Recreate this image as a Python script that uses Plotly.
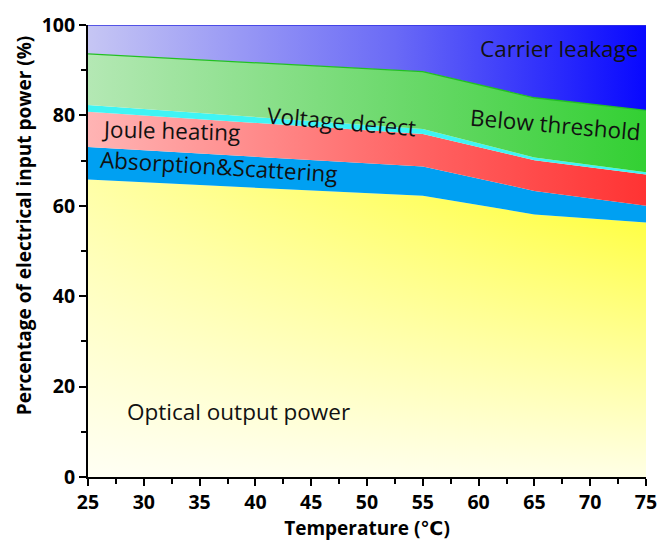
import numpy as np
import plotly.graph_objects as go

# Temperature points (°C)
temperature = [25, 55, 65, 75]

# Share of electrical input power (%) for each loss channel
optical_output = [65.8, 62.2, 58.1, 56.3]
absorption_scattering = [7.2, 6.5, 5.2, 3.7]
joule_heating = [7.8, 7.2, 6.8, 6.9]
voltage_defect = [1.5, 1.1, 0.6, 0.5]
below_threshold = [11.3, 12.7, 13.2, 13.7]
carrier_leakage = [6.4, 10.3, 16.1, 18.9]

x_ticks = [25, 30, 35, 40, 45, 50, 55, 60, 65, 70, 75]
y_ticks = [0, 20, 40, 60, 80, 100]

components = [optical_output, absorption_scattering, joule_heating,
              voltage_defect, below_threshold, carrier_leakage]
tops = np.cumsum(np.array(components, dtype=float), axis=0)
bottoms = np.vstack([np.zeros(len(temperature)), tops[:-1]])

x = np.array(temperature, dtype=float)
fig = go.Figure()


def band(i, gradient=None, color=None):
    """Closed polygon between the lower and upper edge of stacked layer i."""
    px = np.concatenate([x, x[::-1]])
    py = np.concatenate([tops[i], bottoms[i][::-1]])
    kw = dict(x=px, y=py, mode="lines", fill="toself", line=dict(width=0),
              hoverinfo="skip", showlegend=False)
    if gradient is not None:
        kw["fillgradient"] = gradient
        kw["fillcolor"] = "rgba(0,0,0,0)"
    else:
        kw["fillcolor"] = color
    fig.add_trace(go.Scatter(**kw))


# Optical output: yellow, fading to white towards the lower left
band(0, gradient=dict(type="horizontal",
                      colorscale=[[0, "#ffffa6"], [1, "#ffff2a"]]))
band(0, gradient=dict(type="vertical",
                      colorscale=[[0, "rgba(255,255,255,0.88)"],
                                  [1, "rgba(255,255,255,0)"]]))
# Absorption & scattering
band(1, color="#00a0f2")
# Joule heating
band(2, gradient=dict(type="horizontal",
                      colorscale=[[0, "#ffb4b4"], [0.6, "#ff6262"], [1, "#ff3333"]]))
# Voltage defect
band(3, color="#3ff4f4")
# Below threshold
band(4, gradient=dict(type="horizontal",
                      colorscale=[[0, "#b4e8b4"], [0.6, "#66d866"], [1, "#33d033"]]))
# Carrier leakage
band(5, gradient=dict(type="horizontal",
                      colorscale=[[0, "#c6c6f4"], [0.55, "#6a6af6"], [1, "#0808ff"]]))

# Edge lines
fig.add_trace(go.Scatter(x=x, y=tops[4], mode="lines",
                         line=dict(color="#22c022", width=1.3),
                         hoverinfo="skip", showlegend=False))
fig.add_trace(go.Scatter(x=x, y=tops[5], mode="lines",
                         line=dict(color="#3030e0", width=1.5),
                         hoverinfo="skip", showlegend=False))

label_font = dict(family="Open Sans, DejaVu Sans, sans-serif", size=22.5, color="#111111")
labels = [
    ("Carrier leakage", 67.2, 94.8, 0),
    ("Voltage defect", 47.7, 78.6, 5),
    ("Below threshold", 66.9, 77.9, 5),
    ("Joule heating", 32.4, 76.6, 1.5),
    ("Absorption&Scattering", 36.7, 68.8, 3.5),
    ("Optical output power", 38.5, 14.5, 0),
]
for text, lx, ly, ang in labels:
    fig.add_annotation(x=lx, y=ly, xref="x", yref="y", text=text,
                       showarrow=False, textangle=ang, font=label_font)

tick_font = dict(family="Open Sans, DejaVu Sans, sans-serif", size=19.5, color="#000000")
title_font = dict(family="Open Sans, DejaVu Sans, sans-serif", size=19, color="#000000")

# Y-axis title, placed a little above the vertical centre of the axis
fig.add_annotation(x=0, y=0.556, xref="paper", yref="paper", xanchor="center",
                   yanchor="middle", xshift=-64.5, textangle=-90, showarrow=False,
                   text="<b>Percentage of electrical input power (%)</b>",
                   font=title_font)

fig.update_xaxes(
    range=[25, 75], tickvals=x_ticks, ticktext=[f"<b>{v}</b>" for v in x_ticks],
    ticklabeloverflow="allow",
    showline=True, linecolor="black", linewidth=2, ticks="outside",
    ticklen=7, tickwidth=2, tickcolor="black", tickfont=tick_font,
    minor=dict(dtick=2.5, ticks="outside", ticklen=5, tickwidth=1.5, tickcolor="black"),
    showgrid=False, zeroline=False,
    title=dict(text="<b>Temperature (℃)</b>", font=title_font, standoff=2),
)
fig.update_yaxes(
    range=[0, 100], tickvals=y_ticks, ticktext=[f"<b>{v}</b>" for v in y_ticks],
    ticklabeloverflow="allow",
    showline=True, linecolor="black", linewidth=2, ticks="outside",
    ticklen=7, tickwidth=2, tickcolor="black", tickfont=tick_font,
    minor=dict(dtick=10, ticks="outside", ticklen=5, tickwidth=1.5, tickcolor="black"),
    showgrid=False, zeroline=False,
)

fig.update_layout(
    width=668, height=542,
    margin=dict(l=88, r=11, t=19, b=62),
    plot_bgcolor="white", paper_bgcolor="white",
)

fig.write_html("out.html")
